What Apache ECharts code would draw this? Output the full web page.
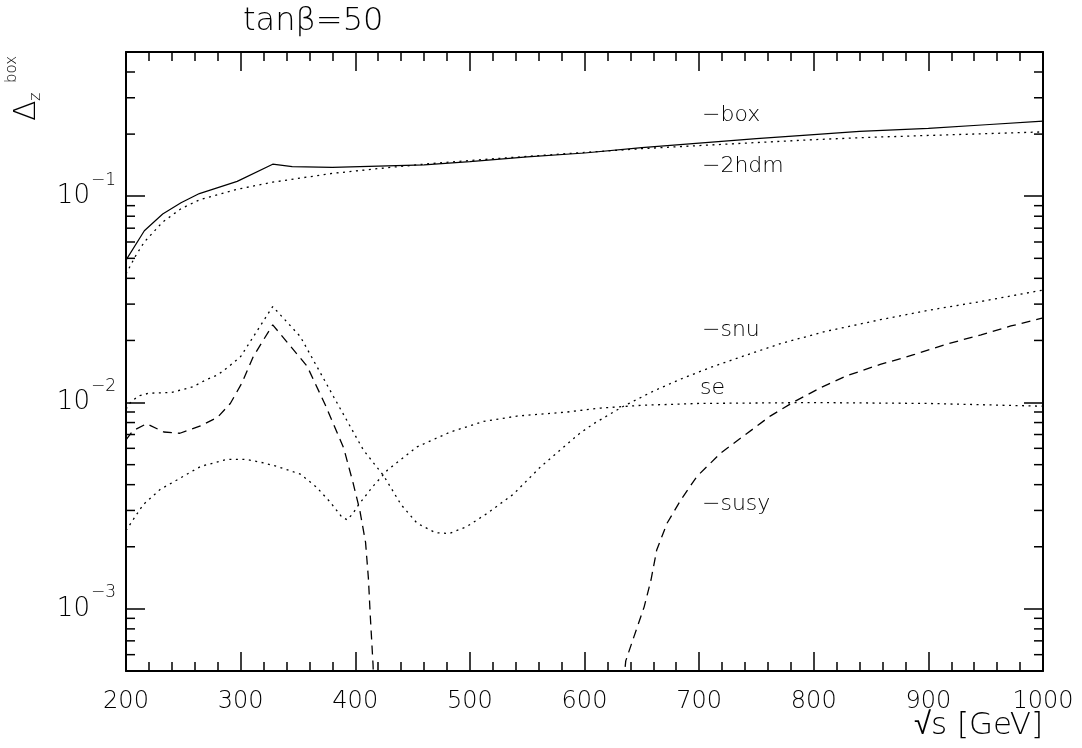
<!DOCTYPE html>
<html><head><meta charset="utf-8">
<script src="https://cdn.jsdelivr.net/npm/echarts@6/dist/echarts.min.js"></script>
<style>html,body{margin:0;padding:0;background:#fff}#c{width:1082px;height:748px}</style>
</head><body><div id="c"></div><script>
const FONT = "'DejaVu Sans', sans-serif";
const FW = 200;

// x axis: sqrt(s) in GeV
const xMin = 200, xMax = 1000, xStep = 100;
// y axis: Delta_Z^box (log)
const yMin = 5e-4, yMax = 0.5;
const yDecades = [-4, -3, -2, -1];

const titleText = 'tanβ=50';
const xName = '√s [GeV]';

const boxData = [[200,0.049],[216,0.068],[232,0.082],[248,0.093],[264,0.103],[297,0.118],[328,0.143],[345,0.139],[380,0.138],[420,0.140],[460,0.142],[500,0.147],[550,0.155],[600,0.162],[650,0.172],[700,0.181],[750,0.190],[800,0.199],[840,0.206],[900,0.213],[950,0.222],[1000,0.231]];
const hdmData = [[200,0.042],[208,0.051],[216,0.060],[232,0.075],[248,0.087],[264,0.096],[297,0.108],[328,0.117],[380,0.129],[425,0.137],[460,0.143],[500,0.149],[550,0.156],[600,0.163],[650,0.170],[700,0.176],[750,0.182],[800,0.188],[850,0.193],[900,0.197],[950,0.201],[1000,0.205]];
const snuData = [[200,0.0093],[205,0.0102],[212,0.0108],[220,0.0111],[240,0.0112],[258,0.0119],[270,0.0129],[280,0.0136],[290,0.0150],[300,0.0167],[314,0.0221],[328,0.0292],[352,0.0209],[381,0.0107],[407,0.0059],[425,0.0044],[440,0.0032],[454,0.0026],[470,0.00234],[482,0.00232],[497,0.0025],[515,0.0029],[538,0.0036],[562,0.0049],[585,0.0063],[596,0.0071],[608,0.0079],[634,0.0096],[660,0.01135],[684,0.0130],[710,0.0148],[740,0.0169],[771,0.0193],[810,0.0221],[858,0.0252],[900,0.0280],[946,0.0309],[1000,0.0351]];
const seData = [[200,0.0024],[208,0.0028],[215,0.0032],[230,0.0038],[244,0.0042],[265,0.0049],[288,0.0053],[305,0.0053],[320,0.0051],[332,0.0049],[352,0.0045],[366,0.0039],[378,0.0033],[388,0.0028],[393,0.0027],[398,0.0029],[403,0.0032],[415,0.0039],[428,0.0047],[454,0.0061],[483,0.0072],[512,0.0081],[541,0.0086],[585,0.0090],[614,0.0094],[650,0.0097],[700,0.0099],[800,0.0100],[900,0.0099],[1000,0.0096]];
const susyData = [[200,0.0066],[206,0.0073],[218,0.0079],[233,0.0072],[247,0.0071],[265,0.0077],[280,0.0085],[291,0.0099],[301,0.0124],[311,0.0167],[328,0.0238],[358,0.0150],[374,0.0097],[390,0.0060],[398,0.0041],[404,0.0030],[409,0.0021],[411.5,0.0014],[413,0.00095],[415.5,0.00054],[418,0.0002],[628,0.0002],[636,0.00056],[643,0.00073],[652,0.00102],[658,0.00138],[663,0.00193],[672,0.0026],[684,0.00337],[698,0.00438],[719,0.0057],[742,0.0071],[762,0.0086],[783,0.0101],[806,0.0118],[829,0.0135],[858,0.0153],[888,0.0171],[916,0.0192],[946,0.0213],[972,0.0235],[1000,0.0257]];

const curveLabels = ['−box', '−2hdm', '−snu', 'se', '−susy'];

// minor tick values on the log axis (2..9 x 10^n)
const minorTicks = [];
yDecades.forEach(function (e) {
  for (let k = 2; k <= 9; k++) {
    const v = k * Math.pow(10, e);
    if (v > yMin && v < yMax) minorTicks.push([xMin, v]);
  }
});

const chart = echarts.init(document.getElementById('c'), null, {renderer: 'canvas'});

const axisLineStyle = {lineStyle: {color: '#000', width: 2}};
function xAxisCfg(pos, showLabel) {
  return {
    type: 'value', position: pos, min: xMin, max: xMax, interval: xStep,
    axisLine: Object.assign({show: true, onZero: false}, axisLineStyle),
    axisTick: {show: true, inside: true, length: 19, lineStyle: {color: '#000', width: 1.5}},
    minorTick: {show: true, splitNumber: 5, length: 9, lineStyle: {color: '#000', width: 1.5}},
    splitLine: {show: false}, minorSplitLine: {show: false},
    axisLabel: {show: showLabel, color: '#000', fontFamily: FONT, fontWeight: FW, fontSize: 24, margin: 19,
      formatter: function (v) { return String(v); }}
  };
}
function yAxisCfg(pos, showLabel) {
  return {
    type: 'log', logBase: 10, position: pos, min: yMin, max: yMax,
    axisLine: Object.assign({show: true, onZero: false}, axisLineStyle),
    axisTick: {show: true, inside: true, length: 19, lineStyle: {color: '#000', width: 1.5}},
    splitLine: {show: false},
    axisLabel: {
      show: showLabel, color: '#000', margin: 10,
      formatter: function (v) {
        const l = Math.log10(v);
        const e = Math.round(l);
        if (Math.abs(l - e) > 1e-6) return '';
        return '{b|10}{s|−' + (-e) + '}';
      },
      rich: {
        b: {fontFamily: FONT, fontWeight: FW, fontSize: 26, color: '#000', lineHeight: 28},
        s: {fontFamily: FONT, fontWeight: FW, fontSize: 17, color: '#000', lineHeight: 18, padding: [0, 0, 32, 1]}
      }
    }
  };
}

function lineSeries(name, data, type, width) {
  return {
    name: name, type: 'line', data: data, showSymbol: false, symbol: 'none',
    smooth: false, clip: true, silent: true, xAxisIndex: 0, yAxisIndex: 0,
    lineStyle: {color: '#000', width: width, type: type}
  };
}

const DOT = [2, 4.5];
const DASH = [9, 6];

function lbl(i, left, top) {
  return {type: 'text', left: left, top: top,
    style: {text: curveLabels[i], fontFamily: FONT, fontWeight: FW, fontSize: 22, fill: '#000'}};
}

const option = {
  animation: false,
  backgroundColor: '#fff',
  grid: {left: 126, right: 39, top: 52, bottom: 77, containLabel: false, outerBoundsMode: 'none'},
  title: {text: titleText, left: 243, top: 6, padding: 0,
    textStyle: {fontFamily: FONT, fontSize: 32, fontWeight: FW, color: '#000'}},
  xAxis: [xAxisCfg('bottom', true), xAxisCfg('top', false)],
  yAxis: [yAxisCfg('left', true), yAxisCfg('right', false)],
  graphic: [
    {type: 'group', x: 42, y: 121, rotation: Math.PI / 2, children: [
      {type: 'text', x: 0, y: 0, style: {text: 'Δ', fontFamily: FONT, fontWeight: FW, fontSize: 30, fill: '#000', verticalAlign: 'bottom'}},
      {type: 'text', x: 20, y: 2, style: {text: 'z', fontFamily: FONT, fontWeight: FW, fontSize: 16, fill: '#000', verticalAlign: 'bottom'}},
      {type: 'text', x: 38, y: -22, style: {text: 'box', fontFamily: FONT, fontWeight: FW, fontSize: 15, fill: '#000', verticalAlign: 'bottom'}}
    ]},
    {type: 'text', right: 39, top: 710,
      style: {text: xName, fontFamily: FONT, fontWeight: FW, fontSize: 31, fill: '#000'}},
    lbl(0, 702, 104),
    lbl(1, 702, 155),
    lbl(2, 702, 319),
    lbl(3, 700, 377),
    lbl(4, 702, 493)
  ],
  series: [
    {
      type: 'custom', coordinateSystem: 'cartesian2d', xAxisIndex: 0, yAxisIndex: 0,
      data: minorTicks, silent: true, clip: false,
      renderItem: function (params, api) {
        const v = api.value(1);
        const pL = api.coord([xMin, v]);
        const pR = api.coord([xMax, v]);
        return {type: 'group', children: [
          {type: 'line', shape: {x1: pL[0], y1: pL[1], x2: pL[0] + 9, y2: pL[1]}, style: {stroke: '#000', lineWidth: 1.5}},
          {type: 'line', shape: {x1: pR[0], y1: pR[1], x2: pR[0] - 9, y2: pR[1]}, style: {stroke: '#000', lineWidth: 1.5}}
        ]};
      }
    },
    lineSeries('box', boxData, 'solid', 1.2),
    lineSeries('2hdm', hdmData, DOT, 1.3),
    lineSeries('snu', snuData, DOT, 1.3),
    lineSeries('se', seData, DOT, 1.3),
    lineSeries('susy', susyData, DASH, 1.3)
  ]
};
chart.setOption(option);
</script></body></html>
